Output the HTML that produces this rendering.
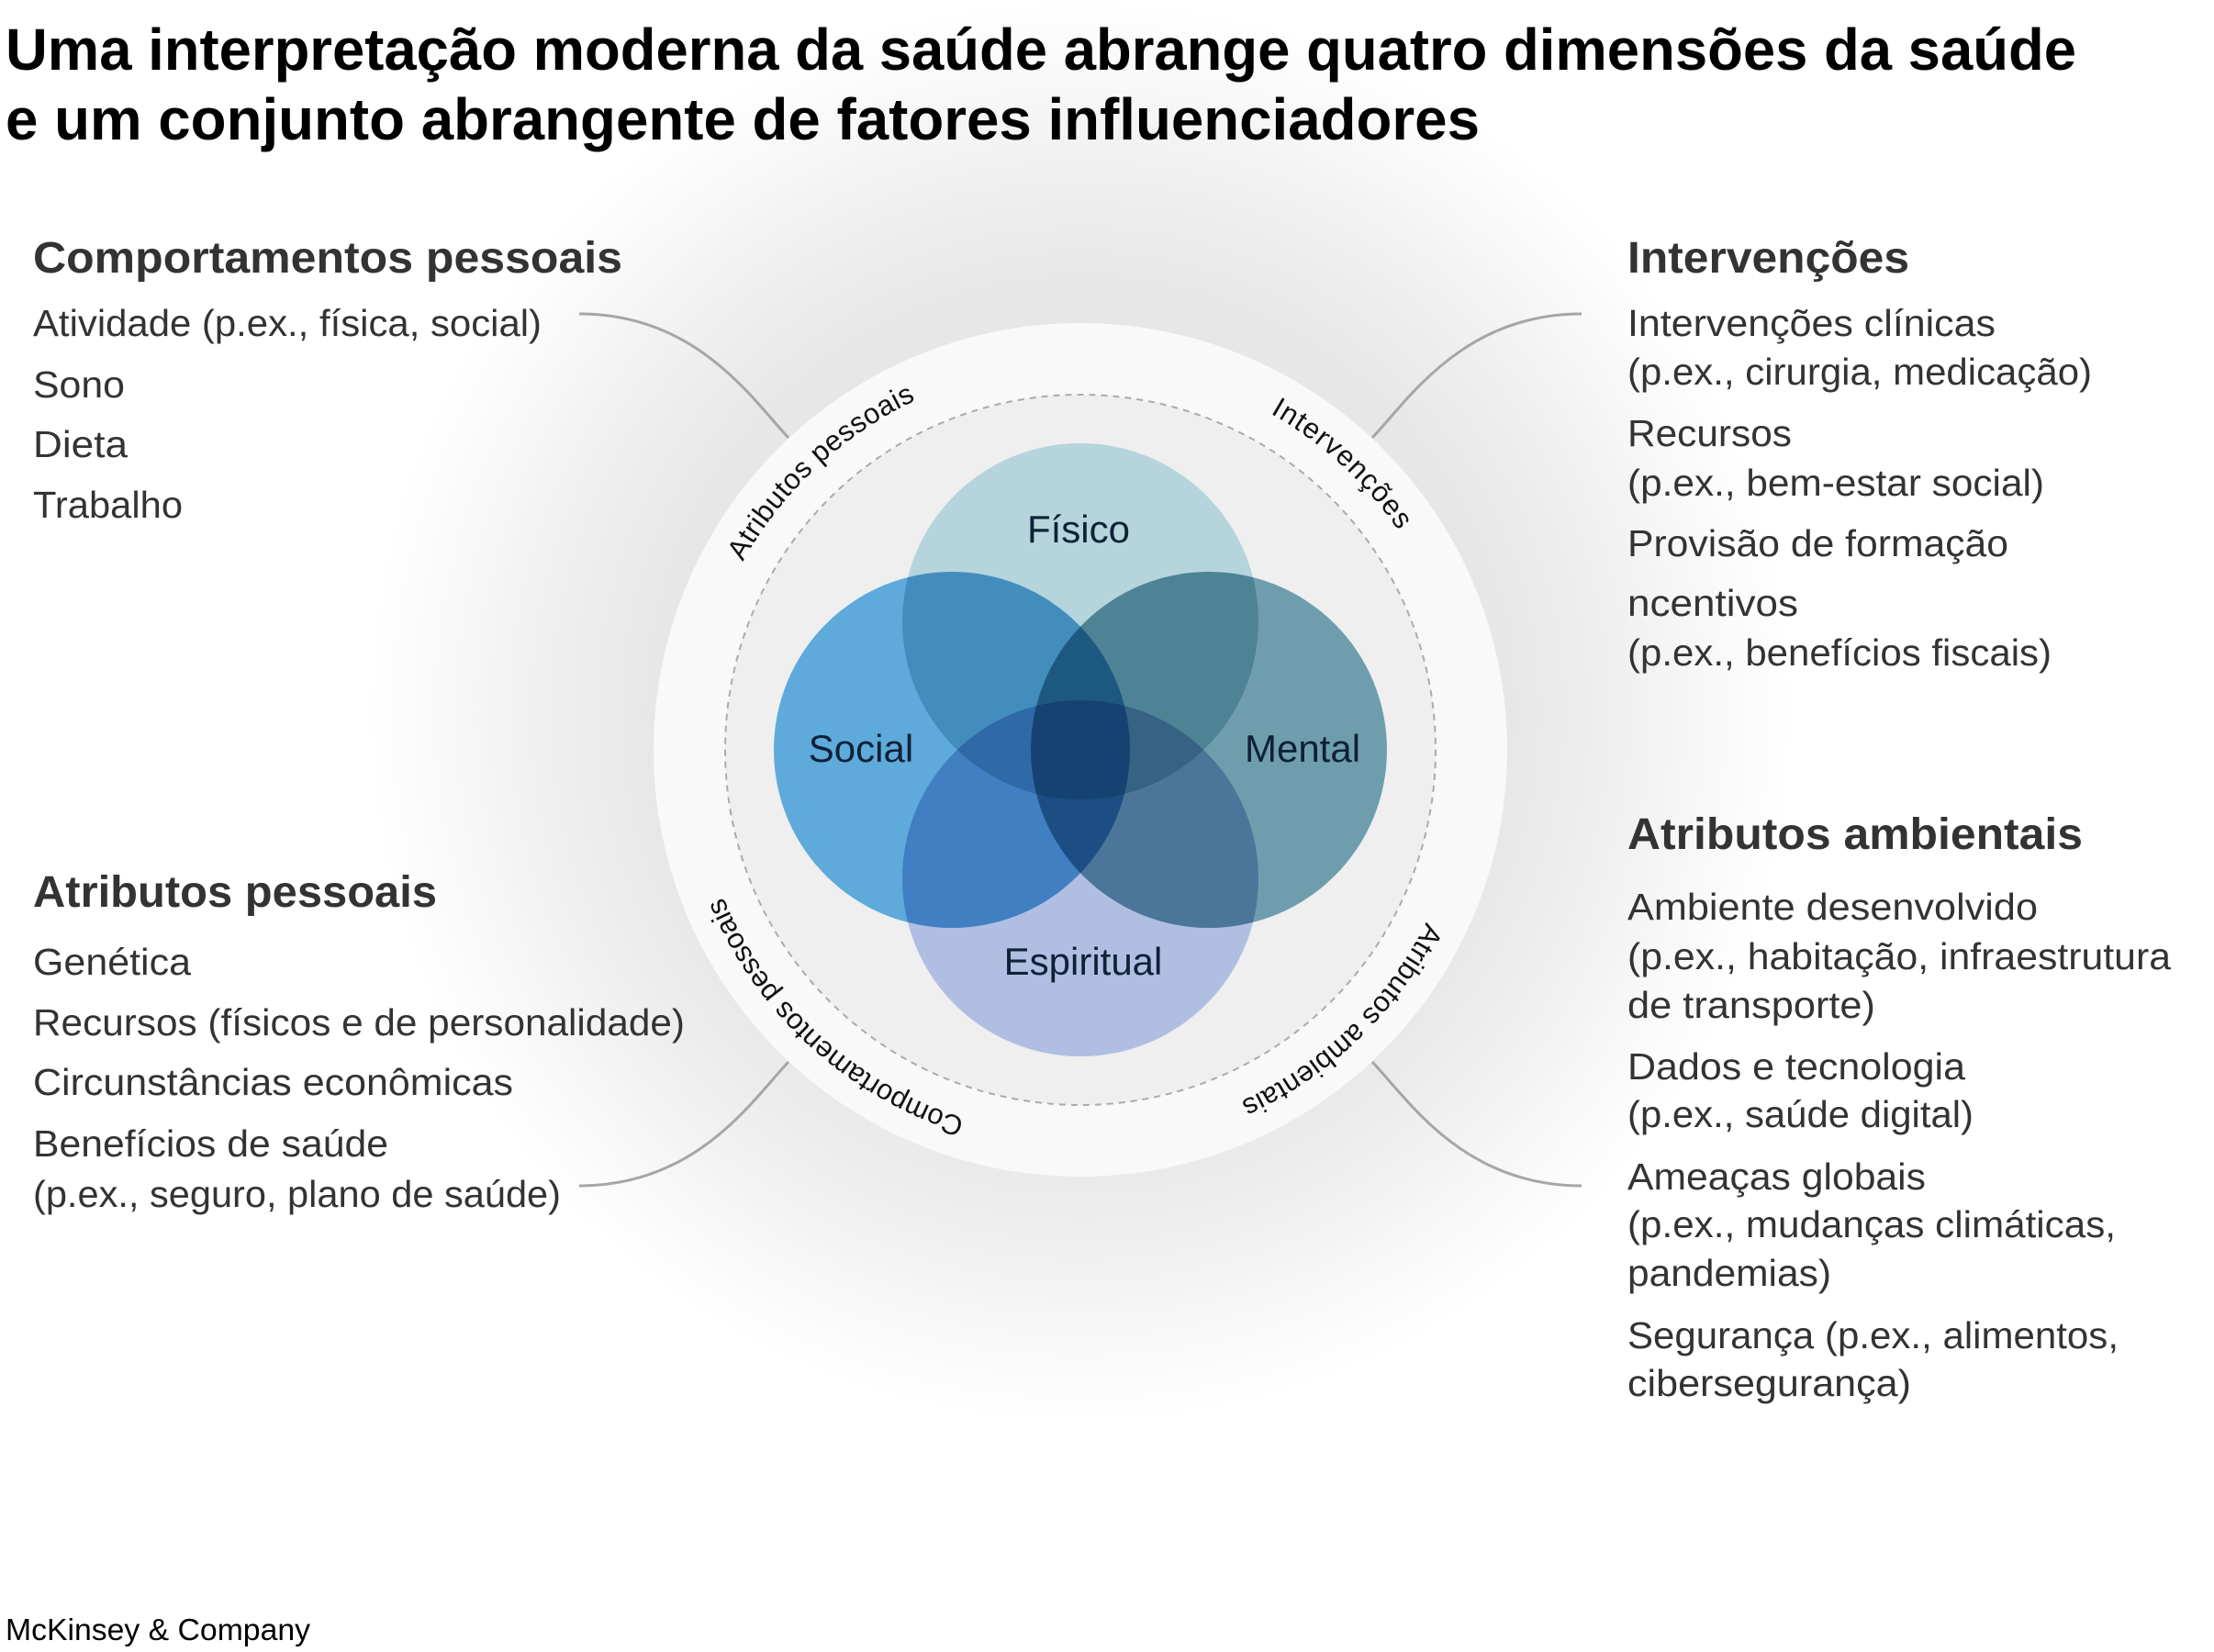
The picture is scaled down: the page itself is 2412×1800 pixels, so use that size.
<!DOCTYPE html>
<html>
<head>
<meta charset="utf-8">
<style>
  html, body { margin: 0; padding: 0; background: #ffffff; }
  svg { display: block; }
  .title { font-family: "Liberation Sans", Arial, sans-serif; font-weight: bold; font-size: 64px; fill: #000; }
  .head { font-family: "Liberation Sans", Arial, sans-serif; font-weight: bold; font-size: 48px; fill: #333333; }
  .body { font-family: "Liberation Sans", Arial, sans-serif; font-size: 41px; fill: #333333; }
  .venn { font-family: "Liberation Sans", Arial, sans-serif; font-size: 42px; fill: #0e2136; }
  .ring { font-family: "Liberation Sans", Arial, sans-serif; font-size: 31px; fill: #111111; }
  .foot { font-family: "Liberation Sans", Arial, sans-serif; font-size: 33px; fill: #000; }
</style>
</head>
<body>
<svg xmlns="http://www.w3.org/2000/svg" width="2412" height="1800" viewBox="0 0 2412 1800">
  <defs>
    <radialGradient id="glow" gradientUnits="userSpaceOnUse" cx="1177" cy="775" r="775">
      <stop offset="0" stop-color="#e6e6e7"/>
      <stop offset="0.6" stop-color="#e7e7e8"/>
      <stop offset="0.73" stop-color="#eeeeef"/>
      <stop offset="0.87" stop-color="#f7f7f7"/>
      <stop offset="1" stop-color="#ffffff"/>
    </radialGradient>
    <path id="arcAP" d="M766.8,911.7 A421,421 0 0 1 1300.1,414.4"/>
    <path id="arcINT" d="M1050.4,415.5 A421,421 0 0 1 1588.0,908.1"/>
    <path id="arcAA" d="M1585.5,715.2 A421,421 0 0 1 1061.0,1221.7"/>
    <path id="arcCP" d="M1303.6,1218.5 A421,421 0 0 1 766.0,725.9"/>
  </defs>

  <!-- background -->
  <rect x="0" y="0" width="2412" height="1800" fill="#ffffff"/>
  <circle cx="1177" cy="775" r="775" fill="url(#glow)"/>

  <!-- connectors -->
  <g fill="none" stroke="#a6a6a6" stroke-width="3">
    <path d="M631,342 C760,342 820,436 859,477"/>
    <path d="M1723,342 C1594,342 1534,436 1495,477"/>
    <path d="M631,1292 C760,1292 820,1198 859,1157"/>
    <path d="M1723,1292 C1594,1292 1534,1198 1495,1157"/>
  </g>

  <!-- rings -->
  <circle cx="1177" cy="817" r="465" fill="#f9f9f9"/>
  <circle cx="1177" cy="817" r="387" fill="#efeff0" stroke="#ababab" stroke-width="2" stroke-dasharray="7 6"/>

  <!-- venn -->
  <g style="isolation:isolate">
    <circle cx="1177" cy="677" r="194" fill="#b5d4dc" style="mix-blend-mode:multiply"/>
    <circle cx="1037" cy="817" r="194" fill="#5eaadb" style="mix-blend-mode:multiply"/>
    <circle cx="1317" cy="817" r="194" fill="#6e9ead" style="mix-blend-mode:multiply"/>
    <circle cx="1177" cy="957" r="194" fill="#b0bee2" style="mix-blend-mode:multiply"/>
  </g>

  <text class="venn" x="1175" y="591" text-anchor="middle">Físico</text>
  <text class="venn" x="938" y="830" text-anchor="middle">Social</text>
  <text class="venn" x="1419" y="830" text-anchor="middle">Mental</text>
  <text class="venn" x="1180" y="1062" text-anchor="middle">Espiritual</text>

  <!-- ring labels -->
  <text class="ring" letter-spacing="0.5"><textPath href="#arcAP" startOffset="50%" text-anchor="middle">Atributos pessoais</textPath></text>
  <text class="ring" letter-spacing="1.2"><textPath href="#arcINT" startOffset="50%" text-anchor="middle">Intervenções</textPath></text>
  <text class="ring" letter-spacing="0.3"><textPath href="#arcAA" startOffset="50%" text-anchor="middle">Atributos ambientais</textPath></text>
  <text class="ring" letter-spacing="0"><textPath href="#arcCP" startOffset="50%" text-anchor="middle">Comportamentos pessoais</textPath></text>

  <!-- title -->
  <text class="title" x="6" y="76" textLength="2256" lengthAdjust="spacingAndGlyphs">Uma interpretação moderna da saúde abrange quatro dimensões da saúde</text>
  <text class="title" x="6" y="152" textLength="1606" lengthAdjust="spacingAndGlyphs">e um conjunto abrangente de fatores influenciadores</text>

  <!-- left top -->
  <text class="head" x="36" y="297" textLength="642" lengthAdjust="spacingAndGlyphs">Comportamentos pessoais</text>
  <text class="body" x="36" y="366" textLength="554" lengthAdjust="spacingAndGlyphs">Atividade (p.ex., física, social)</text>
  <text class="body" x="36" y="433" textLength="100" lengthAdjust="spacingAndGlyphs">Sono</text>
  <text class="body" x="36" y="498" textLength="103" lengthAdjust="spacingAndGlyphs">Dieta</text>
  <text class="body" x="36" y="564" textLength="163" lengthAdjust="spacingAndGlyphs">Trabalho</text>

  <!-- left bottom -->
  <text class="head" x="36" y="988" textLength="440" lengthAdjust="spacingAndGlyphs">Atributos pessoais</text>
  <text class="body" x="36" y="1062" textLength="172" lengthAdjust="spacingAndGlyphs">Genética</text>
  <text class="body" x="36" y="1128" textLength="710" lengthAdjust="spacingAndGlyphs">Recursos (físicos e de personalidade)</text>
  <text class="body" x="36" y="1193" textLength="523" lengthAdjust="spacingAndGlyphs">Circunstâncias econômicas</text>
  <text class="body" x="36" y="1260" textLength="387" lengthAdjust="spacingAndGlyphs">Benefícios de saúde</text>
  <text class="body" x="36" y="1315" textLength="575" lengthAdjust="spacingAndGlyphs">(p.ex., seguro, plano de saúde)</text>

  <!-- right top -->
  <text class="head" x="1773" y="297" textLength="307" lengthAdjust="spacingAndGlyphs">Intervenções</text>
  <text class="body" x="1773" y="366" textLength="401" lengthAdjust="spacingAndGlyphs">Intervenções clínicas</text>
  <text class="body" x="1773" y="419" textLength="506" lengthAdjust="spacingAndGlyphs">(p.ex., cirurgia, medicação)</text>
  <text class="body" x="1773" y="486" textLength="179" lengthAdjust="spacingAndGlyphs">Recursos</text>
  <text class="body" x="1773" y="540" textLength="454" lengthAdjust="spacingAndGlyphs">(p.ex., bem-estar social)</text>
  <text class="body" x="1773" y="606" textLength="415" lengthAdjust="spacingAndGlyphs">Provisão de formação</text>
  <text class="body" x="1773" y="671" textLength="186" lengthAdjust="spacingAndGlyphs">ncentivos</text>
  <text class="body" x="1773" y="725" textLength="462" lengthAdjust="spacingAndGlyphs">(p.ex., benefícios fiscais)</text>

  <!-- right bottom -->
  <text class="head" x="1773" y="925" textLength="496" lengthAdjust="spacingAndGlyphs">Atributos ambientais</text>
  <text class="body" x="1773" y="1002" textLength="447" lengthAdjust="spacingAndGlyphs">Ambiente desenvolvido</text>
  <text class="body" x="1773" y="1056" textLength="592" lengthAdjust="spacingAndGlyphs">(p.ex., habitação, infraestrutura</text>
  <text class="body" x="1773" y="1109" textLength="270" lengthAdjust="spacingAndGlyphs">de transporte)</text>
  <text class="body" x="1773" y="1176" textLength="368" lengthAdjust="spacingAndGlyphs">Dados e tecnologia</text>
  <text class="body" x="1773" y="1228" textLength="377" lengthAdjust="spacingAndGlyphs">(p.ex., saúde digital)</text>
  <text class="body" x="1773" y="1296" textLength="325" lengthAdjust="spacingAndGlyphs">Ameaças globais</text>
  <text class="body" x="1773" y="1348" textLength="532" lengthAdjust="spacingAndGlyphs">(p.ex., mudanças climáticas,</text>
  <text class="body" x="1773" y="1401" textLength="222" lengthAdjust="spacingAndGlyphs">pandemias)</text>
  <text class="body" x="1773" y="1469" textLength="535" lengthAdjust="spacingAndGlyphs">Segurança (p.ex., alimentos,</text>
  <text class="body" x="1773" y="1521" textLength="309" lengthAdjust="spacingAndGlyphs">cibersegurança)</text>

  <!-- footer -->
  <text class="foot" x="6" y="1787" textLength="332" lengthAdjust="spacingAndGlyphs">McKinsey &amp; Company</text>
</svg>
</body>
</html>
